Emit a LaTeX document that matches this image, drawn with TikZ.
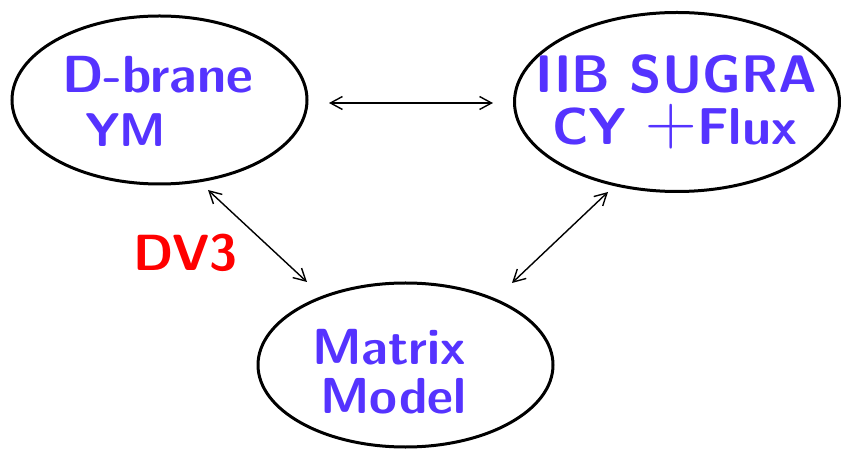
\documentclass[tikz,border=0pt]{standalone}
\usepackage{fix-cm}
\usepackage{graphicx}
\usetikzlibrary{shapes.geometric,arrows.meta}
\definecolor{txtblue}{RGB}{85,51,255}
\definecolor{txtred}{RGB}{255,0,0}
\tikzset{
  bubble/.style={draw=black, line width=3bp, ellipse, inner sep=0pt},
  lbl/.style={text=txtblue, font=\fontsize{45}{45}\selectfont\sffamily\bfseries, inner sep=0pt, anchor=base west},
  link/.style={line width=1.4bp, {Straight Barb[length=12bp,width=13bp]}-{Straight Barb[length=12bp,width=13bp]}}
}
\newcommand{\fitw}[2]{\resizebox{#1}{!}{#2}}
\begin{document}
\begin{tikzpicture}[x=1bp,y=-1bp]
\useasboundingbox (0,0) rectangle (841,451);
\node[bubble, minimum width=295bp, minimum height=168bp] (e1) at (159.5,100) {};
\node[bubble, minimum width=325bp, minimum height=179bp] (e2) at (677,102) {};
\node[bubble, minimum width=295bp, minimum height=164bp] (e3) at (405.5,365) {};
\node[lbl] (t1a) at (62,93) {\fitw{191bp}{D-brane}};
\node[lbl] (t1b) at (85,147) {\fitw{81bp}{YM}};
\node[lbl] (t2a) at (535,93) {\fitw{282bp}{IIB SUGRA}};
\node[lbl] (t2b) at (552,145) {\fitw{245bp}{CY {\fontsize{62}{62}\selectfont\smash{$+$}}Flux}};
\node[lbl] (t3a) at (312,365) {\fitw{154bp}{Matrix}};
\node[lbl] (t3b) at (320,413) {\fitw{146bp}{Model}};
\node[lbl, text=txtred] (dv) at (133,271) {\fitw{104bp}{DV3}};
\coordinate (a1) at (329,103);
\coordinate (a2) at (493,103);
\coordinate (b1) at (208,190);
\coordinate (b2) at (307,282);
\coordinate (c1) at (608,192);
\coordinate (c2) at (512,283);
\draw[link] (a1) -- (a2);
\draw[link] (b1) -- (b2);
\draw[link] (c1) -- (c2);
\end{tikzpicture}
\end{document}
